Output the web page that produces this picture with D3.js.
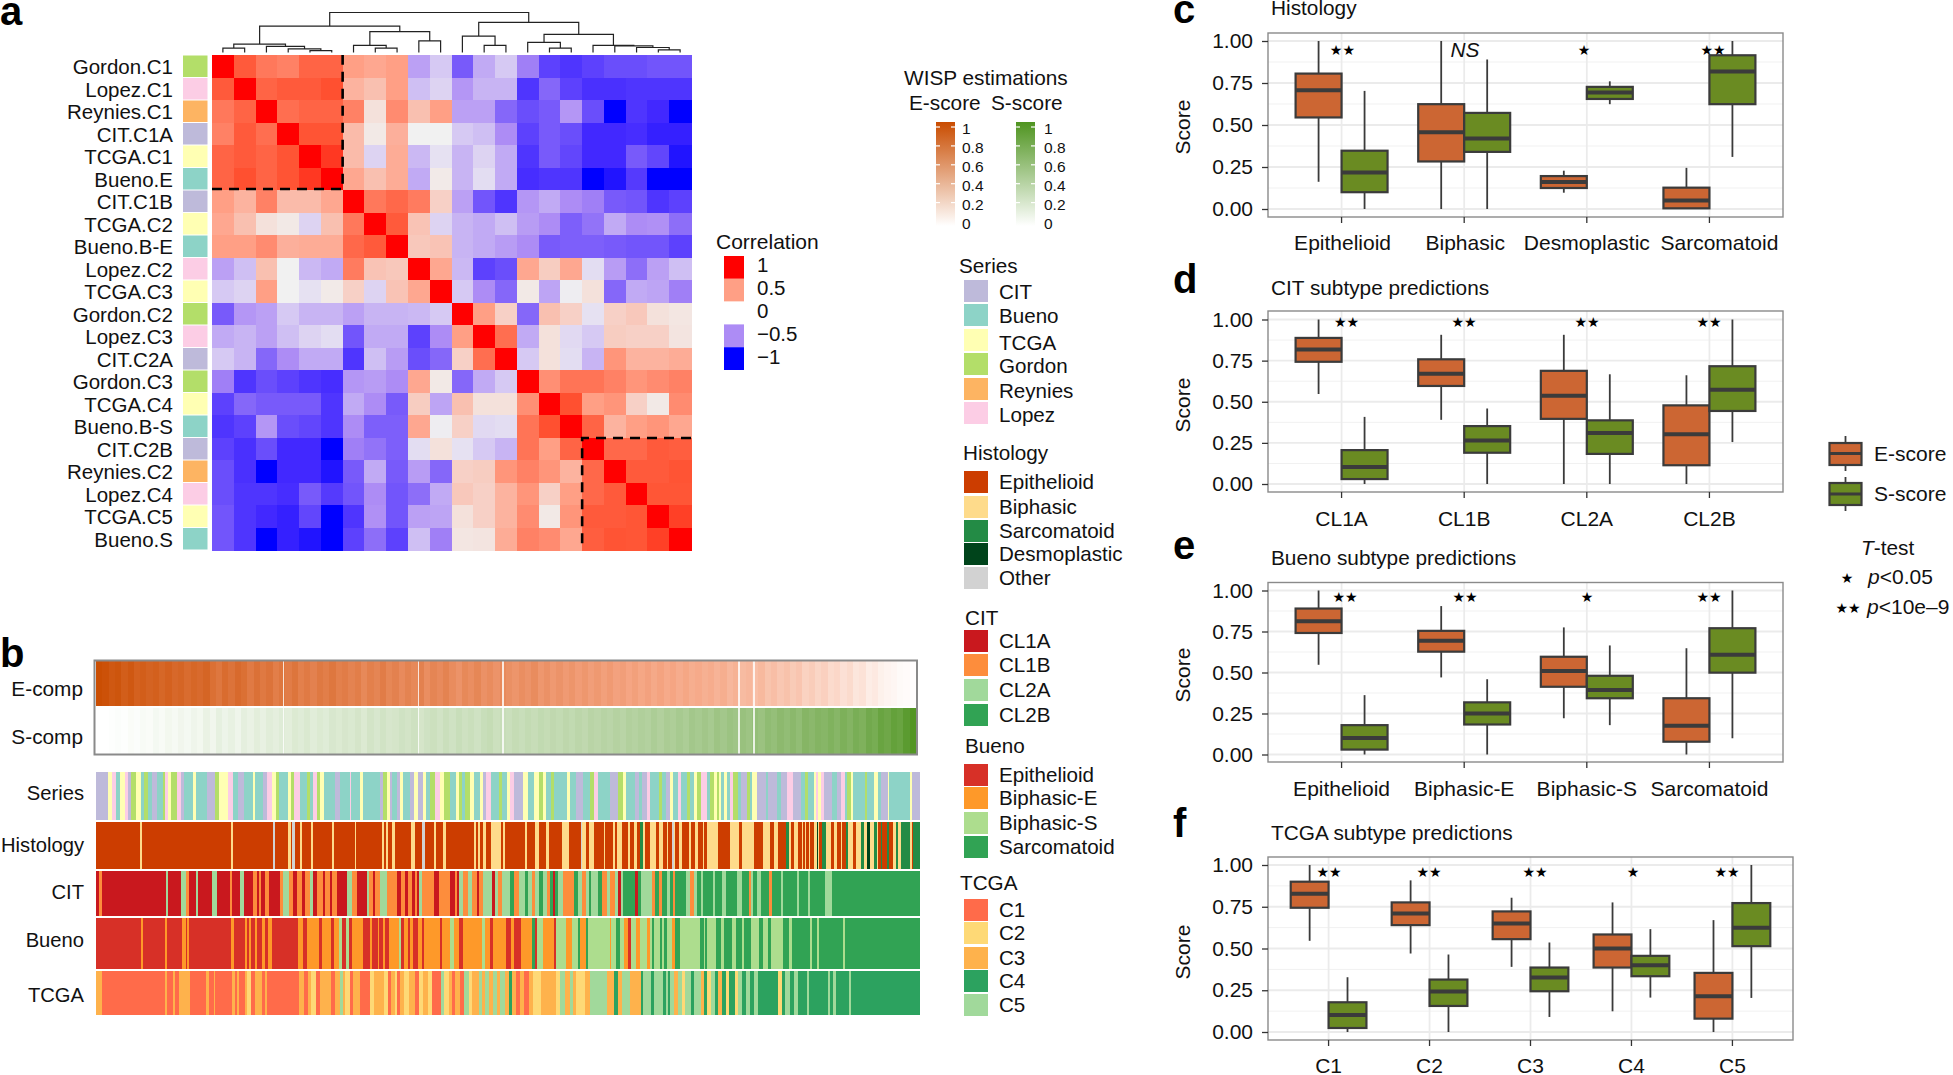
<!DOCTYPE html>
<html><head><meta charset="utf-8">
<script src="https://d3js.org/d3.v7.min.js"></script>
<style>
html,body{margin:0;padding:0;background:#fff}
svg{display:block}
text{font-family:"Liberation Sans",Arial,sans-serif;fill:#111}
</style></head><body>
<script>
// ---------- panel a ----------
const rowLabels=["Gordon.C1","Lopez.C1","Reynies.C1","CIT.C1A","TCGA.C1","Bueno.E","CIT.C1B","TCGA.C2","Bueno.B-E","Lopez.C2","TCGA.C3","Gordon.C2","Lopez.C3","CIT.C2A","Gordon.C3","TCGA.C4","Bueno.B-S","CIT.C2B","Reynies.C2","Lopez.C4","TCGA.C5","Bueno.S"];
const correlation=[
[1,.85,.7,.65,.8,.8,.5,.45,.5,-.4,-.2,-.7,-.35,-.2,-.55,-.8,-.85,-.8,-.75,-.75,-.72,-.72],
[.85,1,.8,.85,.85,.9,.38,.3,.5,-.25,-.15,-.45,-.3,-.3,-.85,-.65,-.8,-.87,-.87,-.85,-.85,-.85],
[.7,.8,1,.75,.8,.8,.65,.1,.6,.3,.5,-.4,-.4,-.65,-.75,-.7,-.45,-.75,-1,-.85,-.9,-1],
[.65,.85,.75,1,.88,.88,.33,.05,.4,0,0,-.2,-.25,-.5,-.8,-.7,-.75,-.9,-.9,-.88,-.92,-.92],
[.8,.85,.8,.88,1,.93,.33,-.15,.42,-.28,-.08,-.3,-.15,-.35,-.85,-.7,-.78,-.9,-.9,-.7,-.78,-.95],
[.8,.9,.8,.88,.93,1,.45,.3,.42,-.35,.04,-.3,-.1,-.35,-.88,-.85,-.85,-1,-.95,-.83,-1,-1],
[.5,.38,.65,.33,.33,.45,1,.7,.78,.68,.2,-.4,-.72,-.85,-.45,-.35,-.5,-.55,-.7,-.72,-.85,-.8],
[.45,.3,.1,.05,-.15,.3,.7,1,.85,.28,-.15,-.3,-.35,-.25,-.42,-.5,-.68,-.6,-.35,-.5,-.48,-.62],
[.5,.5,.6,.4,.42,.42,.78,.85,1,.25,.28,-.3,-.35,-.42,-.5,-.7,-.68,-.68,-.7,-.72,-.72,-.8],
[-.4,-.25,.3,0,-.28,-.35,.68,.28,.25,1,.45,-.28,-.8,-.75,.45,.22,.45,-.1,-.42,-.62,-.4,-.25],
[-.2,-.15,.5,0,-.08,.04,.2,-.15,.28,.45,1,-.2,-.5,-.65,.05,-.38,-.02,.1,-.65,-.35,-.38,-.55],
[-.7,-.45,-.4,-.2,-.3,-.3,-.4,-.3,-.3,-.28,-.2,1,.5,.2,-.65,.3,.2,-.08,.2,.25,.1,.07],
[-.35,-.3,-.4,-.25,-.15,-.1,-.72,-.35,-.35,-.8,-.5,.5,1,.75,-.35,.1,-.12,-.2,.22,.2,.2,.08],
[-.2,-.3,-.65,-.5,-.35,-.35,-.85,-.25,-.42,-.75,-.65,.2,.75,1,-.2,.1,-.1,-.3,.55,.38,.38,.42],
[-.55,-.85,-.75,-.8,-.85,-.88,-.45,-.42,-.5,.45,.05,-.65,-.35,-.2,1,.58,.72,.72,.65,.55,.6,.65],
[-.8,-.65,-.7,-.7,-.7,-.85,-.35,-.5,-.7,.22,-.38,.3,.1,.1,.58,1,.9,.5,.55,.2,.05,.6],
[-.85,-.8,-.45,-.75,-.78,-.85,-.5,-.68,-.68,.45,-.02,.2,-.12,-.1,.72,.9,1,.8,.38,.5,.55,.45],
[-.8,-.87,-.75,-.9,-.9,-1,-.55,-.6,-.68,-.1,.1,-.08,-.2,-.3,.72,.5,.8,1,.78,.78,.85,.83],
[-.75,-.87,-1,-.9,-.9,-.95,-.7,-.35,-.7,-.42,-.65,.2,.22,.55,.65,.55,.38,.78,1,.85,.85,.88],
[-.75,-.85,-.85,-.88,-.7,-.83,-.72,-.5,-.72,-.62,-.35,.25,.2,.38,.55,.2,.5,.78,.85,1,.87,.87],
[-.72,-.85,-.9,-.92,-.78,-1,-.85,-.48,-.72,-.4,-.38,.1,.2,.38,.6,.05,.55,.85,.85,.87,1,.92],
[-.72,-.85,-1,-.92,-.95,-1,-.8,-.62,-.8,-.25,-.55,.07,.08,.42,.65,.6,.45,.83,.88,.87,.92,1]];
const dendrogram=[1,[.66,[.21,[.11,0,1],[.155,2,[.09,3,[.045,4,5]]]],[.52,[.18,6,[.11,7,8]],[.29,9,10]]],[.755,[.41,11,[.18,12,13]],[.455,[.255,14,[.11,15,16]],[.18,17,[.165,18,[.125,19,[.065,20,21]]]]]]];
const seriesNames=["CIT","Bueno","TCGA","Gordon","Reynies","Lopez"];
const seriesColors=["#bebada","#8dd3c7","#ffffb3","#b3de69","#fdb462","#fccde5"];
const corrLegendValues=["1","0.5","0","−0.5","−1"];
const corrLegendColors=["#ff0000","#ff9f85","#ffffff","#ad8cf5","#0000ff"];
// ---------- panel b ----------
const eComp=[.99,.97,.93,.95,.90,.93,.88,.90,.87,.89,.85,.88,.84,.86,.82,.85,.83,.86,.80,.76,.82,.78,.83,.80,.74,.79,.75,.78,.72,.76,.73,.77,.71,.74,.70,.75,.72,.76,.71,.73,.69,.72,.66,.71,.68,.73,.67,.70,.65,.69,.66,.70,.63,.68,.65,.69,.64,.60,.66,.63,.67,.61,.64,.60,.65,.62,.59,.63,.60,.64,.58,.61,.57,.60,.56,.59,.55,.58,.54,.57,.53,.56,.52,.54,.50,.53,.49,.52,.48,.51,.47,.50,.46,.49,.45,.47,.44,.46,.42,.45,.40,.43,.38,.40,.36,.39,.33,.36,.31,.34,.29,.32,.25,.28,.23,.26,.20,.22,.17,.20,.14,.16,.10,.12,.08,.06,.05,.03,.02,.01];
const sComp=[0,0,.01,.02,.01,.03,.02,.04,.03,.06,.04,.07,.05,.08,.06,.09,.07,.12,.08,.14,.1,.13,.09,.15,.12,.16,.13,.17,.15,.18,.16,.2,.18,.21,.17,.2,.18,.22,.2,.23,.21,.24,.2,.25,.22,.26,.23,.24,.27,.25,.28,.24,.27,.29,.26,.3,.27,.31,.28,.3,.27,.31,.33,.29,.32,.3,.33,.31,.34,.32,.35,.33,.36,.34,.37,.35,.38,.36,.4,.38,.41,.39,.42,.4,.44,.42,.45,.43,.47,.44,.48,.46,.5,.47,.52,.5,.53,.5,.55,.52,.56,.54,.58,.55,.6,.57,.63,.6,.65,.62,.66,.62,.69,.66,.7,.68,.72,.68,.74,.7,.76,.73,.8,.77,.85,.82,.88,.85,.93,.98];
const compGaps=[29.6,51,64.4,101.8,104.2];
const seriesRuns=("c37 t10 l13 b12 t15 l10 c7 g16 t14 b10 g13 b10 c15 b18 g7 l10 t8 g17 l12 c10 b26 t10 b34 c23 g13 t27 l15 b15 c17 b26 t7 b25 c10 l15 t13 g10 b27 t8 g9 l18 b20 g8 b10 l12 g10 t10 b35 c13 b30 l5 b27 t8 b37 "+
"b13 c10 g12 t10 c6 b14 c10 t8 b22 c10 t13 c15 t9 b13 g15 l13 t14 g18 b18 t7 g10 b10 g15 t10 b20 t8 c10 l14 b23 g10 b15 t8 l12 c28 t14 b20 t15 g11 t9 b16 g9 b38 t10 b18 c19 b21 g14 l10 b36 c25 g15 t10 b27 c10 b10 c15 l8 b17 "+
"b10 g10 b13 c12 t8 b14 l10 b18 g8 b12 t10 g12 l18 b8 g12 t8 g7 t7 b8 t8 b10 l9 g15 b10 c18 g8 b7 t13 c27 b7 c28 b12 c16 l20 c24 b10 g10 b18 t7 l6 t9 l8 c25 b13 c12 l12 b8 g10 t8 b34 g6 b22 t12 b8 c22 t4 b62 t7 c23").split(" ");
const histologyRuns=("e133 b4 e270 b4 e120 o8 e38 b8 e5 o7 e15 b8 e27 b4 e58 b6 e62 b5 e55 "+
"e22 b5 e8 b5 e13 b8 e49 b12 e20 o11 e27 b5 e22 b8 e85 b5 e7 b5 e8 b10 e15 b30 e5 b7 e61 b6 e23 b11 e22 b8 e39 b23 e35 o4 b11 e8 b15 e32 b3 e24 b6 e7 b13 e20 b6 e12 b8 e10 s7 b8 e13 b19 "+
"e10 b10 e12 b5 e10 o8 b2 e13 b7 e23 b5 e11 b11 e13 b3 e10 b32 e38 b27 e8 b37 e25 b23 e12 b10 e25 s10 b5 e8 b14 e10 b4 e7 b3 e9 b3 e12 b7 d4 b4 e10 s12 b13 e10 b8 e12 b5 e10 s7 b16 e9 b15 s8 b8 d9 b13 s8 b4 e8 s5 e15 s4 e12 b9 s6 b11 s26 b7 e3 s20").split(" ");
const citRuns=("a9 b8 a192 c8 a39 c13 b9 a22 c5 a44 c13 a40 b7 a23 c13 a27 b10 a7 b6 a12 b13 a32 b10 c17 b11 a12 b15 a10 b15 c8 a12 b20 a4 b16 a5 b15 a30 c15 b15 a30 c6 b14 a5 "+
"b15 c20 b30 a12 b13 a8 b12 a10 b5 a8 c8 b37 a15 b32 a15 b5 a6 c14 b15 c10 b15 a8 b12 c25 a10 c10 b10 c25 d12 b16 c17 d10 c10 b10 c13 d10 c12 b10 d10 a6 d9 c13 b35 d12 c10 b13 c10 d5 c22 d10 b15 c10 b15 c10 a7 c8 d35 a10 d7 c33 b10 "+
"d13 b8 d16 c8 d10 b5 d33 c12 b12 c8 d12 c8 d30 c5 d22 c11 d32 c15 d22 b6 c7 d10 c13 d25 b9 d25 c8 d42 c6 d27 c5 d45 c20 d265").split(" ");
const buenoRuns=("a135 b5 a64 b6 a45 b14 a3 b6 a124 b8 a34 b4 a7 b5 a12 b6 a16 b8 a8 b12 a80 b12 a13 b35 a10 b26 a9 b15 c8 a14 c8 a8 b34 a20 b6 a17 "+
"b3 a12 b8 a12 b28 c7 a8 b12 a7 b10 a13 b12 a5 b48 a8 b24 c11 b15 a10 b57 c10 b15 a8 b40 a14 b10 a21 b32 d9 a6 c18 b32 a5 c30 b17 c20 d6 b17 d7 c63 b5 c15 d10 c13 b12 a10 c15 b10 c20 b10 c5 d8 c17 "+
"d5 c8 d8 c14 b10 d15 c60 d10 c5 d5 c27 d13 c10 d23 c12 d18 c7 d20 c25 d12 c13 d10 c37 d16 c10 d54 c6 d15 c5 d72 c5 d223").split(" ");
const tcgaRuns=("c17 a187 c6 a19 c5 a13 c31 a49 c8 a13 c5 a49 c8 a8 c6 a18 c6 b12 a12 c20 a8 c7 a95 c13 a12 c10 b15 a10 c33 a12 c15 e8 c8 b14 a10 c20 a30 b10 c15 "+
"c15 b12 a8 c12 b8 a8 c12 b15 c17 a13 b10 c17 b10 a26 e10 b14 c10 a8 c15 a13 e14 b8 c22 e8 c10 e12 c10 e13 c10 e13 c12 d8 c12 a12 c13 a15 c12 b23 c45 b10 e15 c15 e10 c10 b25 c15 e50 c22 d10 c13 e25 c30 d7 e23 d10 e25 "+
"d10 e7 d6 e12 c10 e12 b10 e16 d10 e22 c8 d10 b10 e12 d10 c10 d12 b10 d16 b9 e13 d12 e13 d10 e13 d58 b12 d10 e14 d13 e12 d26 e4 d58 e7 d8 e7 d40 e6 d204").split(" ");
const stripLabels=["Series","Histology","CIT","Bueno","TCGA"];
const histologyNames=["Epithelioid","Biphasic","Sarcomatoid","Desmoplastic","Other"];
const histologyColors=["#cc3d00","#fedb8b","#238b45","#00441b","#d2d2d2"];
const citNames=["CL1A","CL1B","CL2A","CL2B"];
const citColors=["#c9181e","#fd8d3c","#a1d99b","#31a354"];
const buenoNames=["Epithelioid","Biphasic-E","Biphasic-S","Sarcomatoid"];
const buenoColors=["#d73027","#fe9929","#addd8e","#31a354"];
const tcgaNames=["C1","C2","C3","C4","C5"];
const tcgaColors=["#ff6b4a","#fed976","#feb24c","#2ca25f","#a1d99b"];
const colorbarTicks=[1,.8,.6,.4,.2,0];
// ---------- panels c-f : [top whisker, q3, median, q1, low whisker] ----------
const axisTicks=[0,.25,.5,.75,1];
const histCats=["Epithelioid","Biphasic","Desmoplastic","Sarcomatoid"];
const histE=[[1,.806,.707,.545,.162],[1,.624,.457,.283,0],[.228,.196,.16,.125,.097],[.245,.127,.05,.004,0]];
const histS=[[.703,.347,.218,.10,0],[.89,.572,.42,.34,0],[.76,.727,.693,.655,.624],[1,.915,.818,.624,.31]];
const histMarks=["**","NS","*","**"];
const citCats=["CL1A","CL1B","CL2A","CL2B"];
const citE=[[1,.888,.817,.743,.547],[.907,.758,.67,.596,.39],[.907,.688,.537,.396,0],[.661,.478,.303,.114,0]];
const citS=[[.408,.206,.103,.03,0],[.459,.352,.265,.19,0],[.667,.387,.31,.183,0],[1,.716,.573,.444,.255]];
const citMarks=["**","**","**","**"];
const buenoCats=["Epithelioid","Biphasic-E","Biphasic-S","Sarcomatoid"];
const buenoE=[[1,.89,.813,.741,.547],[.905,.754,.693,.627,.47],[.775,.596,.509,.413,.221],[.648,.343,.175,.078,0]];
const buenoS=[[.362,.179,.101,.03,0],[.459,.318,.25,.183,0],[.665,.48,.394,.343,.179],[1,.77,.608,.499,.099]];
const buenoMarks=["**","**","*","**"];
const tcgaCats=["C1","C2","C3","C4","C5"];
const tcgaE=[[1,.9,.828,.744,.546],[.908,.776,.71,.64,.47],[.804,.722,.65,.556,.39],[.776,.584,.5,.386,.124],[.67,.354,.214,.08,0]];
const tcgaS=[[.328,.178,.102,.024,0],[.464,.314,.242,.156,0],[.536,.386,.326,.244,.09],[.616,.456,.4,.334,.206],[1,.772,.624,.514,.204]];
const tcgaMarks=["**","**","**","*","**"];

const W=1953,H=1075,FS=20.8;
const svg=d3.select("body").append("svg").attr("width",W).attr("height",H).attr("viewBox",`0 0 ${W} ${H}`);
const defs=svg.append("defs");
function T(x,y,s,o={}){const t=svg.append("text").attr("x",x).attr("y",y).attr("font-size",o.size||FS).attr("text-anchor",o.anchor||"start").text(s);
 if(o.weight)t.attr("font-weight",o.weight);if(o.italic)t.attr("font-style","italic");if(o.fill)t.style("fill",o.fill);if(o.family)t.style("font-family",o.family);if(o.rotate)t.attr("transform",`rotate(${o.rotate} ${x} ${y})`);return t;}
[["a",0,25],["b",0,667],["c",1173,23],["d",1173,293],["e",1173,559],["f",1173,837]].forEach(d=>T(d[1],d[2],d[0],{size:40,weight:"bold",fill:"#000"}));

// heatmap
const xH=d3.scaleBand().domain(d3.range(22)).range([212,691]);
const yH=d3.scaleBand().domain(d3.range(22)).range([55,550]);
const heat=d3.scaleLinear().domain([-1,-.9,-.5,0,.5,.9,1]).range(["#0000ff","#4228ff","#ad8cf5","#f1f1f1","#ff9f85","#ff5030","#ff0000"]);
const gH=svg.append("g").attr("shape-rendering","crispEdges");
correlation.forEach((row,i)=>row.forEach((v,j)=>gH.append("rect").attr("x",xH(j)).attr("y",yH(i)).attr("width",xH.bandwidth()+.5).attr("height",yH.bandwidth()+.5).attr("fill",heat(v))));
rowLabels.forEach((s,i)=>{
 T(173,yH(i)+yH.bandwidth()/2+8,s,{anchor:"end",size:20.5});
 const c=seriesColors[seriesNames.indexOf(s.split(".")[0])];
 svg.append("rect").attr("x",183).attr("y",yH(i)+.5).attr("width",24.5).attr("height",yH.bandwidth()-1).attr("fill",c);
});
// dendrogram
const yD=d3.scaleLinear().domain([0,1]).range([52.5,12.5]);
const leafX=i=>xH(i)+xH.bandwidth()/2;
function dend(n){ if(typeof n==="number")return {x:leafX(n),h:0};
 const a=dend(n[1]),b=dend(n[2]);
 svg.append("path").attr("fill","none").attr("stroke","#222").attr("stroke-width",1.2)
  .attr("d",`M${a.x},${yD(a.h)}V${yD(n[0])}H${b.x}V${yD(b.h)}`);
 return {x:(a.x+b.x)/2,h:n[0]};}
dend(dendrogram);
// dashed clusters
const dash=(d)=>svg.append("path").attr("d",d).attr("fill","none").attr("stroke","#000").attr("stroke-width",2.6).attr("stroke-dasharray","10,7");
dash(`M${xH(0)},${yH(6)-1}H${xH(6)}V${yH(0)}`);
dash(`M${xH(21)+xH.bandwidth()},${yH(17)+.5}H${xH(17)}V${yH(21)+yH.bandwidth()}`);
// correlation legend
T(716,249,"Correlation",{size:21});
corrLegendValues.forEach((s,i)=>{svg.append("rect").attr("x",724).attr("y",256+i*22.8).attr("width",20).attr("height",22.8).attr("fill",corrLegendColors[i]);
 T(757,272+i*23,s,{size:20.5});});

// panel b comp strips
const xC=d3.scaleBand().domain(d3.range(eComp.length)).range([96,916]);
const sampleGap=d3.scaleLinear().domain([0,eComp.length]).range([96,916]);
const eCol=d3.scaleLinear().domain([0,.5,1]).range(["#ffffff","#f5a583","#c94c00"]);
const sCol=d3.scaleLinear().domain([0,1]).range(["#ffffff","#4f9420"]);
const gC=svg.append("g").attr("shape-rendering","crispEdges");
eComp.forEach((v,i)=>gC.append("rect").attr("x",xC(i)).attr("y",661).attr("width",xC.bandwidth()+.5).attr("height",45).attr("fill",eCol(v)));
sComp.forEach((v,i)=>gC.append("rect").attr("x",xC(i)).attr("y",707.5).attr("width",xC.bandwidth()+.5).attr("height",46).attr("fill",sCol(v)));
compGaps.forEach(g=>gC.append("rect").attr("x",sampleGap(g)).attr("y",661).attr("width",1.5).attr("height",92.5).attr("fill","#fff").attr("opacity",.8));
svg.append("rect").attr("x",94.5).attr("y",660.5).attr("width",822.5).attr("height",94).attr("fill","none").attr("stroke","#8a8a8a").attr("stroke-width",2);
T(83,696,"E-comp",{anchor:"end"});T(83,744,"S-comp",{anchor:"end"});
// categorical strips
const tracks=[
 {runs:seriesRuns,colors:{c:seriesColors[0],b:seriesColors[1],t:seriesColors[2],g:seriesColors[3],r:seriesColors[4],l:seriesColors[5]},y0:772,y1:820,base:800},
 {runs:histologyRuns,colors:{e:histologyColors[0],b:histologyColors[1],s:histologyColors[2],d:histologyColors[3],o:histologyColors[4]},y0:822,y1:868.5,base:852},
 {runs:citRuns,colors:{a:citColors[0],b:citColors[1],c:citColors[2],d:citColors[3]},y0:871,y1:915.5,base:899},
 {runs:buenoRuns,colors:{a:buenoColors[0],b:buenoColors[1],c:buenoColors[2],d:buenoColors[3]},y0:917.5,y1:969,base:947},
 {runs:tcgaRuns,colors:{a:tcgaColors[0],b:tcgaColors[1],c:tcgaColors[2],d:tcgaColors[3],e:tcgaColors[4]},y0:971,y1:1015,base:1002}];
tracks.forEach((t,k)=>{
 const parsed=t.runs.map(r=>({c:r[0],n:+r.slice(1)}));
 const total=d3.sum(parsed,d=>d.n);
 const x=d3.scaleLinear().domain([0,total]).range([96,920]);
 const g=svg.append("g").attr("shape-rendering","crispEdges");
 let cum=0;
 parsed.forEach(d=>{g.append("rect").attr("x",x(cum)).attr("y",t.y0).attr("width",x(cum+d.n)-x(cum)+.4).attr("height",t.y1-t.y0).attr("fill",t.colors[d.c]);cum+=d.n;});
 T(84,t.base,stripLabels[k],{anchor:"end",size:20.2});
});

// WISP legend
T(904,85,"WISP estimations",{size:20.8});
T(909,110,"E-score",{size:20.8});T(991,110,"S-score",{size:20.8});
[[936,962,"#c94c00","ge"],[1016,1044,"#4f9420","gs"]].forEach(([x,lx,col,id])=>{
 const gr=defs.append("linearGradient").attr("id",id).attr("x1",0).attr("x2",0).attr("y1",0).attr("y2",1);
 gr.append("stop").attr("offset",0).attr("stop-color",col);gr.append("stop").attr("offset",1).attr("stop-color","#fff");
 svg.append("rect").attr("x",x).attr("y",122).attr("width",19).attr("height",104).attr("fill",`url(#${id})`);
 const yb=d3.scaleLinear().domain([0,1]).range([221.5,127]);
 colorbarTicks.forEach(v=>{
  if(v>0){svg.append("line").attr("x1",x).attr("x2",x+4).attr("y1",yb(v)).attr("y2",yb(v)).attr("stroke","#fff").attr("stroke-width",1.2);
  svg.append("line").attr("x1",x+15).attr("x2",x+19).attr("y1",yb(v)).attr("y2",yb(v)).attr("stroke","#fff").attr("stroke-width",1.2);}
  T(lx,yb(v)+7,String(v),{size:15.5});
 });
});
function legend(title,tx,ty,names,colors,ys,labelYs){
 T(tx,ty,title,{size:20.7});
 names.forEach((s,i)=>{svg.append("rect").attr("x",964).attr("y",ys[i]-11).attr("width",24).attr("height",22).attr("fill",colors[i]);
  T(999,(labelYs||ys)[i]+7,s,{size:20.6});});
}
legend("Series",959,273,seriesNames,seriesColors,[291,315,340,364,389,413],[292,316,343,366,391,415]);
legend("Histology",963,460,histologyNames,histologyColors,[482,507,531,554,578]);
legend("CIT",965,625,citNames,citColors,[641,665,690,715]);
legend("Bueno",965,753,buenoNames,buenoColors,[775,798,823,847]);
legend("TCGA",960,890,tcgaNames,tcgaColors,[910,933,958,981,1005]);

// boxplots
const eFill="#cc6633",sFill="#6a8b22",boxStroke="#3b3b3b";
function star(x,y,s){return T(x,y,s,{size:14,anchor:"middle",family:"DejaVu Sans",fill:"#000"});}
function boxPanel(o){
 const {title,titleY,cats,E,S,marks,top,bottom,y1,y0,right,labelY,scoreY,markY,markX,labelShift}=o;
 const left=1268;
 const y=d3.scaleLinear().domain([0,1]).range([y0,y1]);
 const x=d3.scaleBand().domain(cats).range([left,right]).paddingOuter(0.1).paddingInner(0);
 const g=svg.append("g");
 [.125,.375,.625,.875].forEach(v=>g.append("line").attr("x1",left).attr("x2",right).attr("y1",y(v)).attr("y2",y(v)).attr("stroke","#f1f1f1").attr("stroke-width",1));
 axisTicks.forEach(v=>g.append("line").attr("x1",left).attr("x2",right).attr("y1",y(v)).attr("y2",y(v)).attr("stroke","#ebebeb").attr("stroke-width",1.8));
 cats.forEach(c=>g.append("line").attr("x1",x(c)+x.bandwidth()/2).attr("x2",x(c)+x.bandwidth()/2).attr("y1",top).attr("y2",bottom).attr("stroke","#ebebeb").attr("stroke-width",1.8));
 const bw=x.bandwidth()*.375;
 const draw=(q,cx,fill)=>{
  g.append("line").attr("x1",cx).attr("x2",cx).attr("y1",y(q[0])).attr("y2",y(q[4])).attr("stroke",boxStroke).attr("stroke-width",1.8);
  g.append("rect").attr("x",cx-bw/2).attr("y",y(q[1])).attr("width",bw).attr("height",y(q[3])-y(q[1])).attr("fill",fill).attr("stroke",boxStroke).attr("stroke-width",2.2);
  g.append("line").attr("x1",cx-bw/2).attr("x2",cx+bw/2).attr("y1",y(q[2])).attr("y2",y(q[2])).attr("stroke",boxStroke).attr("stroke-width",4);
 };
 cats.forEach((c,i)=>{const m=x(c)+x.bandwidth()/2;draw(E[i],m-bw/2,eFill);draw(S[i],m+bw/2,sFill);
  if(marks[i]==="NS")T(markX[i],markY+7,"NS",{italic:true,anchor:"middle"});
  else star(markX[i],markY+5,marks[i].replace(/\*/g,"★"));
 });
 svg.append("rect").attr("x",left).attr("y",top).attr("width",right-left).attr("height",bottom-top).attr("fill","none").attr("stroke","#8a8a8a").attr("stroke-width",1.4);
 const ya=svg.append("g").attr("transform",`translate(${left},0)`).call(d3.axisLeft(y).tickValues(axisTicks).tickFormat(d3.format(".2f")).tickSize(6).tickSizeOuter(0));
 const xa=svg.append("g").attr("transform",`translate(0,${bottom})`).call(d3.axisBottom(x).tickSize(6).tickSizeOuter(0));
 [ya,xa].forEach(a=>{a.select(".domain").remove();a.selectAll("line").attr("stroke","#333").attr("stroke-width",1.3);a.selectAll("text").attr("font-size",21).style("font-family",'"Liberation Sans"').style("fill","#111");});
 ya.selectAll("text").attr("dx",-6);
 xa.selectAll("text").attr("y",labelY-bottom).attr("dy",0);
 if(labelShift)xa.selectAll("text").attr("x",(d,i)=>labelShift[i]);
 T(1190,scoreY,"Score",{size:21,anchor:"middle",rotate:-90});
 T(1271,titleY,title,{size:20.8});
}
boxPanel({title:"Histology",titleY:15,cats:histCats,E:histE,S:histS,marks:histMarks,top:33,bottom:217,y1:41,y0:209,right:1783,labelY:250,scoreY:127,markY:50,markX:[1342.4,1465,1584,1713],labelShift:[1,1,0,10]});
boxPanel({title:"CIT subtype predictions",titleY:295,cats:citCats,E:citE,S:citS,marks:citMarks,top:311,bottom:492,y1:319.5,y0:484,right:1783,labelY:526,scoreY:405,markY:322,markX:[1346.5,1464,1587,1709]});
boxPanel({title:"Bueno subtype predictions",titleY:565,cats:buenoCats,E:buenoE,S:buenoS,marks:buenoMarks,top:582.5,bottom:762,y1:590.5,y0:754.5,right:1783,labelY:796,scoreY:675,markY:597,markX:[1345,1465,1587,1709]});
boxPanel({title:"TCGA subtype predictions",titleY:840,cats:tcgaCats,E:tcgaE,S:tcgaS,marks:tcgaMarks,top:857,bottom:1040,y1:865,y0:1032,right:1793,labelY:1073,scoreY:952,markY:872,markX:[1329,1429,1535,1633,1727]});

// box legend
[[453.5,443,465,436,471,eFill,"E-score"],[494,483,505,477,511,sFill,"S-score"]].forEach(([m,t,b,wt,wb,f,s])=>{
 svg.append("line").attr("x1",1845.5).attr("x2",1845.5).attr("y1",wt).attr("y2",wb).attr("stroke",boxStroke).attr("stroke-width",1.8);
 svg.append("rect").attr("x",1829.5).attr("y",t).attr("width",32).attr("height",b-t).attr("fill",f).attr("stroke",boxStroke).attr("stroke-width",2.2);
 svg.append("line").attr("x1",1829.5).attr("x2",1861.5).attr("y1",m).attr("y2",m).attr("stroke",boxStroke).attr("stroke-width",3);
 T(1874,m+7,s,{size:21});
});
const tt=T(1861,555,"",{size:20.8});
tt.append("tspan").attr("font-style","italic").text("T");tt.append("tspan").text("-test");
star(1847,583,"★");star(1848,613,"★★");
[[1868,584,"<0.05"],[1867,614,"<10e–9"]].forEach(([x,y,s])=>{const t=T(x,y,"",{size:21});t.append("tspan").attr("font-style","italic").text("p");t.append("tspan").text(s);});
</script>
</body></html>
